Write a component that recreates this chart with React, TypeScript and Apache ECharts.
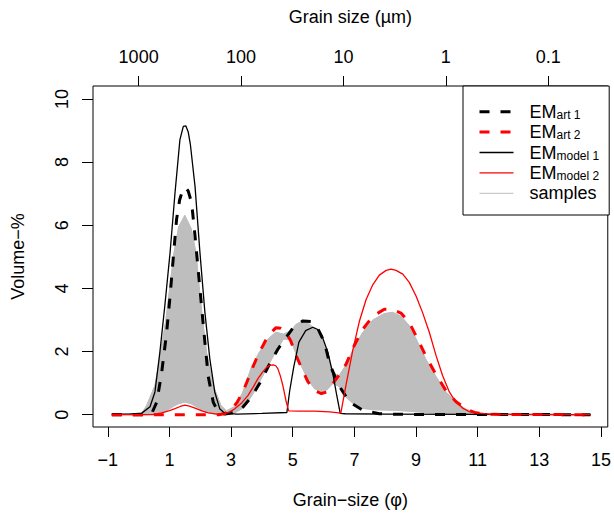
import React, { useEffect, useRef } from 'react';
import * as echarts from 'echarts';

// ---- tick labels ----
const xTicks = [-1, 1, 3, 5, 7, 9, 11, 13, 15];
const yTicks = [0, 2, 4, 6, 8, 10];
const topTickMicrons = [1000, 100, 10, 1, 0.1];
const topTickLabels = ['1000', '100', '10', '1', '0.1'];

// ---- EM_art1 (black dashed) ----
const art1Phi = [-0.87, 0.2, 0.42, 0.59, 0.75, 0.91, 1.02, 1.12, 1.23, 1.33, 1.43, 1.52, 1.61, 1.72, 1.83, 1.93, 2.04, 2.15, 2.26, 2.42, 2.58, 2.8, 3.1, 3.34, 3.66, 3.98, 4.25, 4.52, 4.79, 5.06, 5.33, 5.6, 5.82, 6.03, 6.2, 6.48, 6.84, 7.27, 7.81, 8.5, 14.66];
const art1Vol = [0, 0, 0.03, 0.4, 1.35, 2.61, 3.76, 4.92, 6.18, 6.8, 7.12, 7.2, 7.08, 6.71, 5.66, 4.61, 3.45, 2.3, 1.2, 0.4, 0.08, 0.02, 0.07, 0.19, 0.56, 1.08, 1.61, 2.08, 2.45, 2.82, 2.97, 2.95, 2.71, 2.29, 1.6, 0.95, 0.4, 0.14, 0.03, 0.01, 0];

// ---- EM_art2 (red dashed) ----
const art2Phi = [-0.87, 2.6, 2.8, 3.0, 3.2, 3.37, 3.52, 3.68, 3.9, 4.04, 4.2, 4.45, 4.6, 4.74, 4.93, 5.12, 5.3, 5.49, 5.71, 5.93, 6.1, 6.3, 6.5, 6.73, 7.0, 7.27, 7.6, 7.97, 8.24, 8.51, 8.78, 9.05, 9.32, 9.65, 9.97, 10.29, 10.62, 10.94, 11.5, 14.66];
const art2Vol = [0, 0, 0.04, 0.15, 0.4, 0.7, 1.05, 1.45, 1.95, 2.2, 2.5, 2.75, 2.74, 2.66, 2.35, 1.85, 1.45, 1.05, 0.76, 0.67, 0.72, 0.98, 1.25, 1.6, 2.2, 2.7, 3.12, 3.34, 3.33, 3.22, 2.92, 2.4, 1.85, 1.27, 0.76, 0.42, 0.18, 0.06, 0.01, 0];

// ---- EM_model1 (black solid) ----
const model1Phi = [-0.87, -0.3, 0.1, 0.37, 0.53, 0.69, 0.85, 1.02, 1.18, 1.34, 1.45, 1.53, 1.61, 1.68, 1.83, 1.99, 2.15, 2.31, 2.47, 2.63, 2.8, 3.2, 4.0, 4.81, 4.9, 5.03, 5.2, 5.42, 5.65, 5.8, 5.93, 6.14, 6.3, 6.43, 6.54, 6.7, 8.0, 11.0, 14.66];
const model1Vol = [0.02, 0.02, 0.05, 0.25, 0.72, 1.98, 3.45, 5.13, 7.02, 8.71, 9.13, 9.15, 8.95, 8.55, 7.23, 5.13, 3.24, 1.77, 0.72, 0.19, 0.04, 0.02, 0.04, 0.07, 0.75, 1.5, 2.3, 2.66, 2.77, 2.7, 2.55, 1.97, 1.3, 0.6, 0.04, 0.03, 0.02, 0.01, 0];

// ---- EM_model2 (red solid) ----
const model2Phi = [-0.87, 0.45, 0.75, 1.0, 1.18, 1.35, 1.5, 1.65, 1.83, 2.05, 2.26, 2.55, 2.75, 2.95, 3.12, 3.35, 3.55, 3.72, 3.87, 4.02, 4.15, 4.26, 4.36, 4.45, 4.52, 4.6, 4.68, 4.79, 4.87, 5.2, 5.7, 6.2, 6.56, 6.73, 6.95, 7.16, 7.38, 7.6, 7.81, 8.03, 8.19, 8.35, 8.57, 8.78, 9.0, 9.21, 9.43, 9.65, 9.86, 10.08, 10.29, 10.51, 10.72, 11.05, 11.37, 12.0, 14.66];
const model2Vol = [0, 0, 0.06, 0.13, 0.19, 0.26, 0.3, 0.27, 0.21, 0.12, 0.06, 0.02, 0.02, 0.08, 0.19, 0.38, 0.61, 0.88, 1.14, 1.35, 1.5, 1.56, 1.58, 1.55, 1.45, 1.22, 0.92, 0.4, 0.12, 0.11, 0.11, 0.09, 0.05, 0.95, 2.05, 2.95, 3.65, 4.12, 4.42, 4.57, 4.61, 4.57, 4.45, 4.19, 3.76, 3.24, 2.61, 1.87, 1.24, 0.72, 0.4, 0.21, 0.1, 0.05, 0.02, 0.01, 0];

// ---- samples (grey band: highest and lowest sample curves) ----
const samplePhi = [-0.87, 0.1, 0.26, 0.53, 0.72, 0.89, 1.02, 1.15, 1.3, 1.5, 1.7, 1.86, 1.96, 2.07, 2.2, 2.42, 2.67, 2.85, 3.1, 3.37, 3.66, 3.9, 4.2, 4.45, 4.7, 4.93, 5.12, 5.3, 5.5, 5.71, 5.93, 6.1, 6.3, 6.5, 6.73, 7.0, 7.27, 7.6, 7.97, 8.24, 8.51, 8.78, 9.05, 9.32, 9.65, 9.97, 10.29, 10.62, 10.94, 11.5, 14.66];
const sampleUpper = [0, 0.03, 0.29, 0.92, 1.98, 3.03, 4.08, 5.13, 5.95, 6.31, 5.9, 5.13, 4.08, 3.03, 1.98, 0.92, 0.29, 0.12, 0.25, 0.68, 1.5, 1.95, 2.4, 2.61, 2.55, 2.65, 2.87, 2.95, 2.9, 2.72, 2.42, 1.95, 1.35, 1.22, 1.58, 2.15, 2.6, 3.0, 3.2, 3.24, 3.12, 2.82, 2.3, 1.75, 1.2, 0.72, 0.4, 0.17, 0.06, 0.01, 0];
const sampleLower = [0, 0, 0, 0.02, 0.06, 0.12, 0.2, 0.28, 0.35, 0.4, 0.35, 0.26, 0.2, 0.14, 0.08, 0.03, 0.01, 0.01, 0.05, 0.2, 0.58, 1.0, 1.55, 2.0, 2.4, 2.38, 1.9, 1.5, 1.1, 0.82, 0.74, 0.78, 0.99, 0.9, 0.55, 0.32, 0.2, 0.16, 0.15, 0.14, 0.13, 0.11, 0.09, 0.07, 0.05, 0.03, 0.02, 0.01, 0, 0, 0];

const FONT = 'Liberation Sans, Arial, Helvetica, sans-serif';
const GREY = '#bebebe';

const pairs = (xs: number[], ys: number[]) => xs.map((x, i) => [x, ys[i]]);
const minusFmt = (v: number) => (v < 0 ? '\u2212' + Math.abs(v) : String(v));

const legendText: Record<string, string> = {
  EM_art1: '{m|EM}{s|art 1}',
  EM_art2: '{m|EM}{s|art 2}',
  EM_model1: '{m|EM}{s|model 1}',
  EM_model2: '{m|EM}{s|model 2}',
  samples: '{m|samples}',
};

export default function App() {
  const ref = useRef<HTMLDivElement>(null);

  useEffect(() => {
    if (!ref.current) return;
    const chart = echarts.init(ref.current, null, { renderer: 'svg' });

    const topTickPhi = topTickMicrons.map((um) => Math.log2(1000 / um));
    const upperPts = pairs(samplePhi, sampleUpper);
    const lowerPts = pairs(samplePhi, sampleLower);

    const labelStyle = { color: '#000', fontFamily: FONT, fontSize: 18 };
    const dashed = { type: [10, 11], cap: 'butt' };

    const option: any = {
      animation: false,
      backgroundColor: '#fff',
      textStyle: { fontFamily: FONT },
      grid: {
        left: 93,
        right: 5,
        top: 86,
        bottom: 86,
        show: true,
        borderColor: '#000',
        borderWidth: 1,
        backgroundColor: 'transparent',
      },
      legend: {
        left: 463,
        top: 86,
        orient: 'vertical',
        align: 'left',
        itemWidth: 34,
        itemHeight: 18,
        itemGap: 2.4,
        padding: [16.7, 10, 12.7, 15],
        borderColor: '#000',
        borderWidth: 1,
        borderRadius: 0,
        backgroundColor: '#fff',
        selectedMode: false,
        itemStyle: { opacity: 0 },
        data: [
          { name: 'EM_art1', lineStyle: { width: 3 } },
          { name: 'EM_art2', lineStyle: { width: 3 } },
          { name: 'EM_model1', lineStyle: { width: 1.3 } },
          { name: 'EM_model2', lineStyle: { width: 1.3 } },
          { name: 'samples', lineStyle: { width: 1 } },
        ],
        formatter: (name: string) => legendText[name] || name,
        textStyle: {
          color: '#000',
          fontFamily: FONT,
          fontSize: 18,
          lineHeight: 18,
          padding: [0, 0, 0, 11],
          rich: {
            m: { fontFamily: FONT, fontSize: 18, lineHeight: 18, color: '#000' },
            s: { fontFamily: FONT, fontSize: 12, lineHeight: 6, verticalAlign: 'bottom', color: '#000' },
          },
        },
      },
      xAxis: [
        {
          type: 'value',
          position: 'bottom',
          min: -1.48,
          max: 15.22,
          axisLine: { show: false, onZero: false },
          axisTick: { show: true, customValues: xTicks, length: 10, lineStyle: { color: '#000', width: 1 } },
          axisLabel: { ...labelStyle, customValues: xTicks, margin: 24, formatter: minusFmt },
          splitLine: { show: false },
          name: 'Grain\u2212size (\u03c6)',
          nameLocation: 'middle',
          nameGap: 64,
          nameTextStyle: labelStyle,
        },
        {
          type: 'value',
          position: 'top',
          min: -1.48,
          max: 15.22,
          axisLine: { show: false, onZero: false },
          axisTick: { show: true, customValues: topTickPhi, length: 10, lineStyle: { color: '#000', width: 1 } },
          axisLabel: {
            ...labelStyle,
            customValues: topTickPhi,
            margin: 20,
            formatter: (v: number) => {
              const i = topTickPhi.findIndex((p) => Math.abs(p - v) < 1e-6);
              return i >= 0 ? topTickLabels[i] : '';
            },
          },
          splitLine: { show: false },
          name: 'Grain size (\u00b5m)',
          nameLocation: 'middle',
          nameGap: 60,
          nameTextStyle: labelStyle,
        },
      ],
      yAxis: {
        type: 'value',
        min: -0.39,
        max: 10.41,
        axisLine: { show: false, onZero: false },
        axisTick: { show: true, customValues: yTicks, length: 11, lineStyle: { color: '#000', width: 1 } },
        axisLabel: { ...labelStyle, customValues: yTicks, rotate: 90, margin: 22 },
        splitLine: { show: false },
        name: 'Volume\u2212%',
        nameLocation: 'middle',
        nameGap: 66,
        nameTextStyle: labelStyle,
      },
      series: [
        {
          name: 'sampleBand',
          type: 'custom',
          silent: true,
          clip: true,
          data: [[0, 0]],
          renderItem: (_params: any, api: any) => {
            const pts = upperPts
              .map((p) => api.coord(p))
              .concat(lowerPts.slice().reverse().map((p) => api.coord(p)));
            return {
              type: 'polygon',
              shape: { points: pts },
              style: { fill: GREY, stroke: GREY, lineWidth: 1 },
            };
          },
        },
        {
          name: 'samples',
          type: 'line',
          data: upperPts,
          symbol: 'none',
          color: GREY,
          lineStyle: { color: GREY, width: 1 },
        },
        {
          name: 'samples',
          type: 'line',
          data: lowerPts,
          symbol: 'none',
          color: GREY,
          lineStyle: { color: GREY, width: 1 },
        },
        {
          name: 'EM_art1',
          type: 'line',
          data: pairs(art1Phi, art1Vol),
          symbol: 'none',
          color: '#000',
          lineStyle: { color: '#000', width: 3, ...dashed },
        },
        {
          name: 'EM_art2',
          type: 'line',
          data: pairs(art2Phi, art2Vol),
          symbol: 'none',
          color: '#ff0000',
          lineStyle: { color: '#ff0000', width: 3, ...dashed },
        },
        {
          name: 'EM_model1',
          type: 'line',
          data: pairs(model1Phi, model1Vol),
          symbol: 'none',
          color: '#000',
          lineStyle: { color: '#000', width: 1.3 },
        },
        {
          name: 'EM_model2',
          type: 'line',
          data: pairs(model2Phi, model2Vol),
          symbol: 'none',
          color: '#ff0000',
          lineStyle: { color: '#ff0000', width: 1.3 },
        },
      ],
    };

    chart.setOption(option);
    return () => chart.dispose();
  }, []);

  return (
    <div
      ref={ref}
      style={{ position: 'fixed', left: 0, top: 0, width: 614, height: 514, background: '#fff' }}
    />
  );
}
